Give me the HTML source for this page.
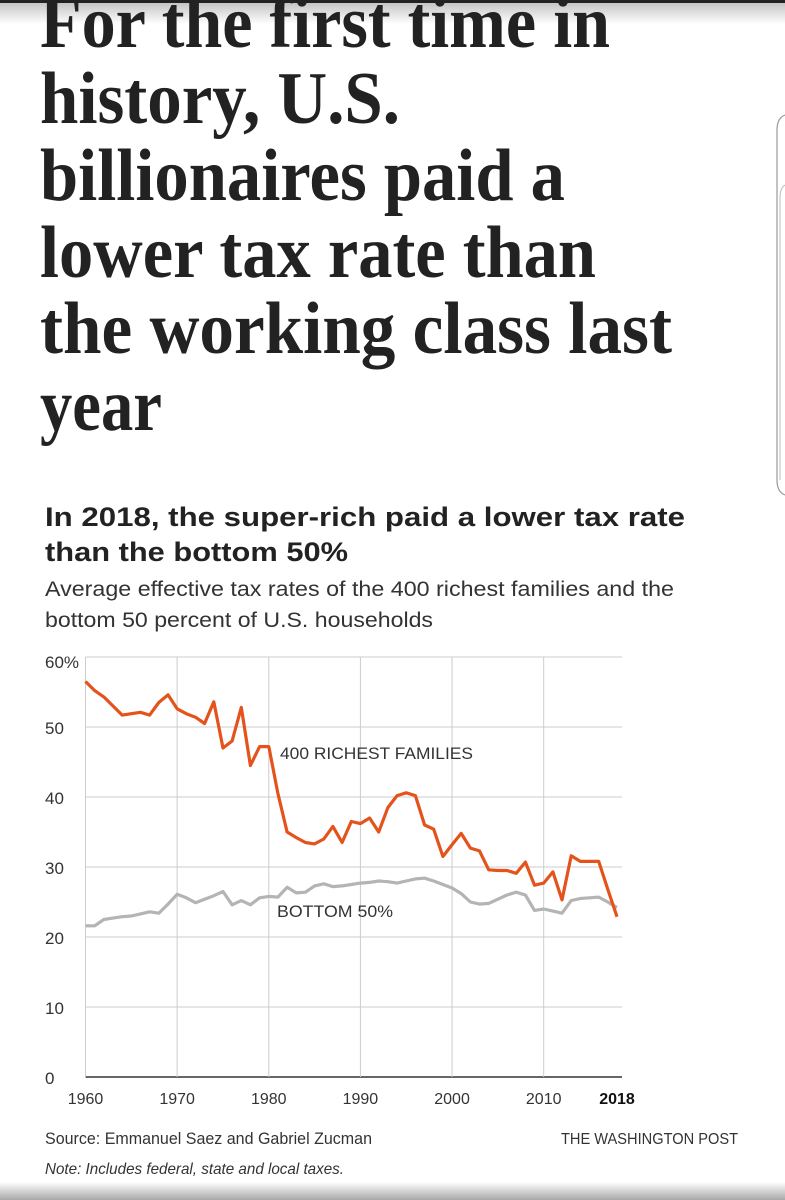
<!DOCTYPE html>
<html><head><meta charset="utf-8"><style>
html,body{margin:0;padding:0;background:#fff;width:785px;height:1200px;overflow:hidden}
svg{display:block}
</style></head><body>
<svg id="chart" width="785" height="1200" viewBox="0 0 785 1200" xmlns="http://www.w3.org/2000/svg">
<defs>
<linearGradient id="topg" x1="0" y1="0" x2="0" y2="1"><stop offset="0" stop-color="#bdbdbd"/><stop offset="1" stop-color="#fff"/></linearGradient>
<linearGradient id="botg" x1="0" y1="0" x2="0" y2="1"><stop offset="0" stop-color="#fff"/><stop offset="1" stop-color="#a8a8a8"/></linearGradient>
</defs>
<rect x="0" y="0" width="785" height="24" fill="url(#topg)"/>
<rect x="0" y="0" width="785" height="3" fill="#222"/>
<path d="M785 115 Q777 118 777 130 L777 480 Q777 492 785 495" fill="none" stroke="#999" stroke-width="1.2"/>
<path d="M785 185 Q780 188 780 198 L780 480" fill="none" stroke="#bbb" stroke-width="1"/>
<g font-family="'Liberation Serif',serif" font-weight="bold" font-size="74" fill="#222">
<text x="40" y="47" textLength="570" lengthAdjust="spacingAndGlyphs">For the first time in</text>
<text x="40" y="123" textLength="360" lengthAdjust="spacingAndGlyphs">history, U.S.</text>
<text x="40" y="200" textLength="525" lengthAdjust="spacingAndGlyphs">billionaires paid a</text>
<text x="40" y="277" textLength="556" lengthAdjust="spacingAndGlyphs">lower tax rate than</text>
<text x="40" y="353" textLength="632" lengthAdjust="spacingAndGlyphs">the working class last</text>
<text x="40" y="430" textLength="122" lengthAdjust="spacingAndGlyphs">year</text>
</g>
<g font-family="'Liberation Sans',sans-serif" fill="#222">
<text x="45" y="526" font-size="27" font-weight="bold" textLength="640" lengthAdjust="spacingAndGlyphs">In 2018, the super-rich paid a lower tax rate</text>
<text x="45" y="561" font-size="27" font-weight="bold" textLength="303" lengthAdjust="spacingAndGlyphs">than the bottom 50%</text>
<text x="45" y="596" font-size="21" fill="#333" textLength="629" lengthAdjust="spacingAndGlyphs">Average effective tax rates of the 400 richest families and the</text>
<text x="45" y="627" font-size="21" fill="#333" textLength="388" lengthAdjust="spacingAndGlyphs">bottom 50 percent of U.S. households</text>
</g>
<g id="grid"></g>
<g id="series"></g>
<g font-family="'Liberation Sans',sans-serif" fill="#333" font-size="17">
<text x="280" y="759" textLength="193" lengthAdjust="spacingAndGlyphs">400 RICHEST FAMILIES</text>
<text x="277" y="917" textLength="116" lengthAdjust="spacingAndGlyphs">BOTTOM 50%</text>
<text x="45" y="1144" textLength="327" lengthAdjust="spacingAndGlyphs">Source: Emmanuel Saez and Gabriel Zucman</text>
<text x="738" y="1144" text-anchor="end" font-size="16" textLength="177" lengthAdjust="spacingAndGlyphs">THE WASHINGTON POST</text>
<text x="45" y="1174" font-style="italic" font-size="16" textLength="299" lengthAdjust="spacingAndGlyphs">Note: Includes federal, state and local taxes.</text>
</g>
<rect x="0" y="1182" width="785" height="18" fill="url(#botg)"/>
</svg>
<script>
const years = [];
for (let y = 1960; y <= 2018; y++) years.push(y);
const richest = [56.5,55.2,54.3,53,51.7,51.9,52.1,51.7,53.5,54.6,52.6,51.9,51.4,50.5,53.6,47,48,52.8,44.5,47.2,47.2,40.5,35,34.2,33.5,33.3,34,35.8,33.5,36.5,36.2,37,35,38.5,40.2,40.6,40.2,36,35.4,31.5,33.2,34.8,32.7,32.3,29.6,29.5,29.5,29.1,30.7,27.4,27.7,29.3,25.3,31.6,30.8,30.8,30.8,26.8,22.9];
const bottom = [21.6,21.6,22.5,22.7,22.9,23,23.3,23.6,23.4,24.7,26.1,25.6,24.9,25.4,25.9,26.5,24.6,25.2,24.6,25.6,25.8,25.7,27.1,26.3,26.4,27.3,27.6,27.2,27.3,27.5,27.7,27.8,28,27.9,27.7,28,28.3,28.4,28,27.5,27,26.2,25,24.7,24.8,25.4,26,26.4,26,23.8,24,23.7,23.4,25.2,25.5,25.6,25.7,25,24.2];
const yTicks = [0,10,20,30,40,50,60];
const yTickLabels = ["0","10","20","30","40","50","60%"];
const xTicks = [1960,1970,1980,1990,2000,2010,2018];
const xTickLabels = ["1960","1970","1980","1990","2000","2010","2018"];

const NS = "http://www.w3.org/2000/svg";
const X0 = 85.5, X1 = 617, Y0 = 1077, Y1 = 657;
const xs = v => X0 + (v - 1960) / (2018 - 1960) * (X1 - X0);
const ys = v => Y0 - v / 60 * (Y0 - Y1);
function mk(tag, attrs, parent) { const e = document.createElementNS(NS, tag); for (const k in attrs) e.setAttribute(k, attrs[k]); parent.appendChild(e); return e; }
const grid = document.getElementById('grid');
const series = document.getElementById('series');

yTicks.forEach((t, i) => {
  const l = mk('line', {x1: X0, x2: 622, y1: ys(t), y2: ys(t), stroke: t === 0 ? '#333' : '#ccc', 'stroke-width': t === 0 ? 1.5 : 1}, grid);
  
  
  const tx = mk('text', {x: 45, y: ys(t) + (t === 60 ? 11 : 7), 'font-family': "'Liberation Sans',sans-serif", 'font-size': 17, fill: '#333'}, grid);
  tx.textContent = yTickLabels[i];
  
  
});
xTicks.forEach((t, i) => {
  if (t !== 1960 && t !== 2018) {
    const l = mk('line', {x1: xs(t), x2: xs(t), y1: Y1, y2: Y0, stroke: '#ccc', 'stroke-width': 1}, grid);
    
    
  }
  const tx = mk('text', {x: xs(t), y: 1104, 'text-anchor': 'middle', 'font-family': "'Liberation Sans',sans-serif", 'font-size': 16, fill: t === 2018 ? '#111' : '#333', 'font-weight': t === 2018 ? 'bold' : 'normal'}, grid);
  tx.textContent = xTickLabels[i];
  
  
});
const vline = mk('line', {x1: X0, x2: X0, y1: Y1, y2: Y0, stroke: '#ccc', 'stroke-width': 1}, grid);



function pathFor(vals) { return vals.map((v, i) => (i ? 'L' : 'M') + xs(years[i]).toFixed(1) + ' ' + ys(v).toFixed(1)).join(' '); }
const pb = mk('path', {d: pathFor(bottom), fill: 'none', stroke: '#b4b4b4', 'stroke-width': 3.2, 'stroke-linejoin': 'round'}, series);


const pr = mk('path', {d: pathFor(richest), fill: 'none', stroke: '#e4531c', 'stroke-width': 3.2, 'stroke-linejoin': 'round'}, series);


</script>
</body></html>
